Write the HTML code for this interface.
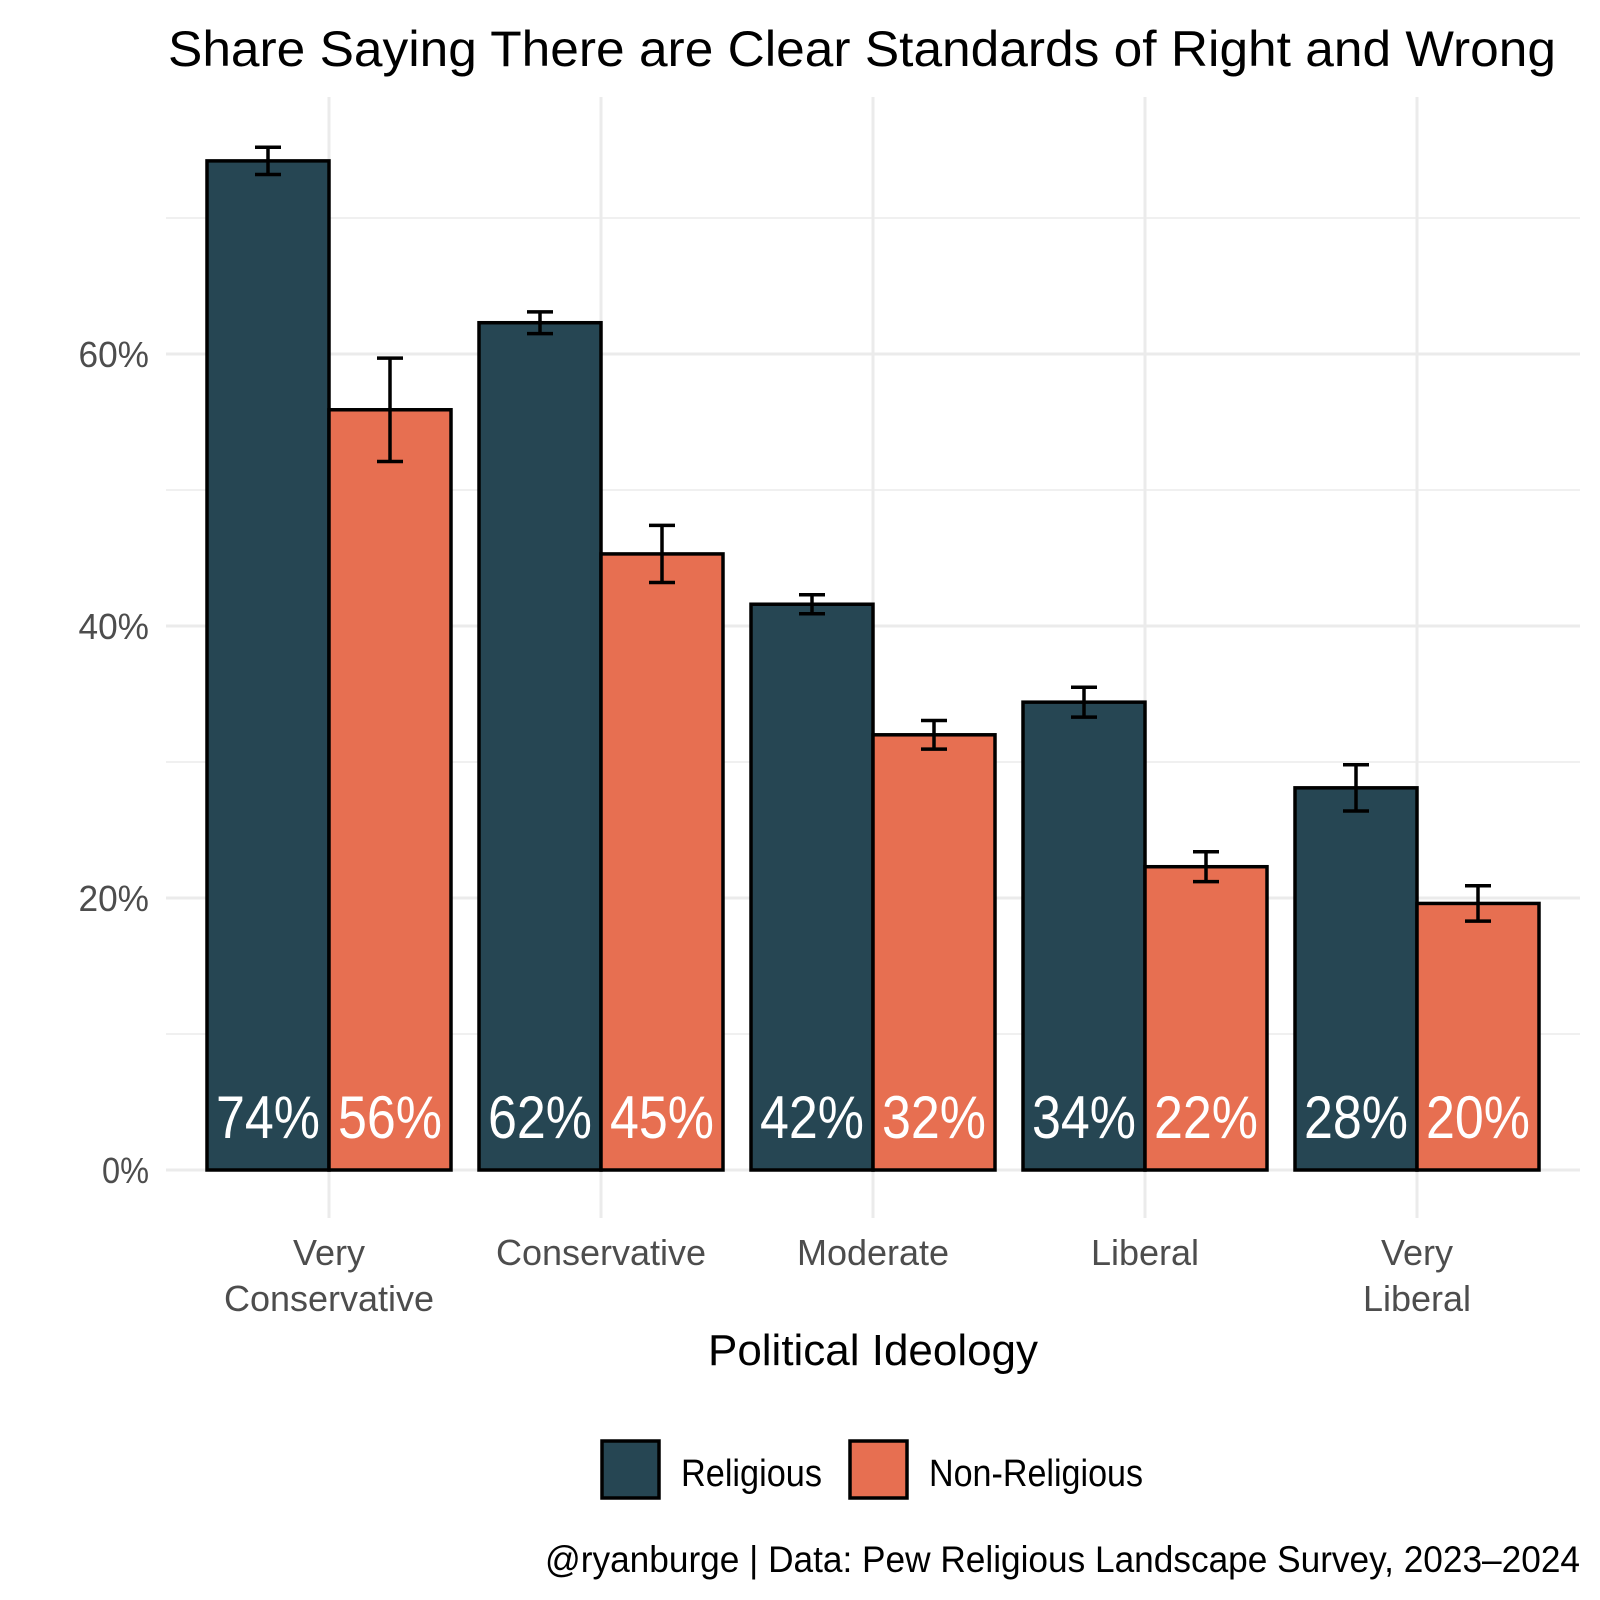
<!DOCTYPE html>
<html><head><meta charset="utf-8"><style>body{margin:0;background:#fff}svg{display:block}text{font-family:"Liberation Sans",sans-serif}</style></head>
<body>
<svg id="chart" width="1600" height="1600" viewBox="0 0 1600 1600" xmlns="http://www.w3.org/2000/svg">
<rect width="1600" height="1600" fill="#fff"/>
<text x="168" y="66" font-size="50" fill="#000" textLength="1388" lengthAdjust="spacingAndGlyphs">Share Saying There are Clear Standards of Right and Wrong</text>
<g id="grid"></g><g id="bars"></g><g id="labels"></g>
<text x="873" y="1365" font-size="44" text-anchor="middle" fill="#000" textLength="330" lengthAdjust="spacingAndGlyphs">Political Ideology</text>
<g>
<rect x="602" y="1441" width="57" height="57" fill="#264653" stroke="#000" stroke-width="3.5"/>
<text x="681" y="1486" font-size="38" fill="#000" textLength="141" lengthAdjust="spacingAndGlyphs">Religious</text>
<rect x="850" y="1441" width="57" height="57" fill="#E76F51" stroke="#000" stroke-width="3.5"/>
<text x="929" y="1486" font-size="38" fill="#000" textLength="214" lengthAdjust="spacingAndGlyphs">Non-Religious</text>
</g>
<text x="1580" y="1572" font-size="37" text-anchor="end" fill="#000" textLength="1035" lengthAdjust="spacingAndGlyphs">@ryanburge | Data: Pew Religious Landscape Survey, 2023–2024</text>
</svg>
<script>
const categories = [["Very","Conservative"],["Conservative"],["Moderate"],["Liberal"],["Very","Liberal"]];
const religious = [74.2, 62.3, 41.6, 34.4, 28.1];
const nonReligious = [55.9, 45.3, 32.0, 22.3, 19.6];
const religiousErr = [1.0, 0.8, 0.7, 1.1, 1.7];
const nonReligiousErr = [3.8, 2.1, 1.05, 1.1, 1.3];
const yTicks = [0, 20, 40, 60];
const yMinor = [10, 30, 50, 70];
const yTickLabels = ["0%", "20%", "40%", "60%"];

const NS = "http://www.w3.org/2000/svg";
const y = v => 1170 - v * 13.6;
const x = i => 329 + i * 272;
const BW = 122;
function mk(tag, attrs, parent){const e=document.createElementNS(NS,tag);for(const k in attrs)e.setAttribute(k,attrs[k]);parent.appendChild(e);return e;}
const grid=document.getElementById('grid'), bars=document.getElementById('bars'), labels=document.getElementById('labels');
yMinor.forEach(v=>{const l=mk('line',{x1:166,x2:1580,y1:y(v),y2:y(v),stroke:'#ebebeb','stroke-width':1.5},grid);

});
yTicks.forEach((v,i)=>{const l=mk('line',{x1:166,x2:1580,y1:y(v),y2:y(v),stroke:'#ebebeb','stroke-width':3},grid);


const t=mk('text',{x:149,y:y(v)+13,'font-size':36,'text-anchor':'end',fill:'#4d4d4d',textLength:yTickLabels[i].length*23.5,lengthAdjust:'spacingAndGlyphs'},labels);t.textContent=yTickLabels[i];

});
categories.forEach((c,i)=>{const l=mk('line',{x1:x(i),x2:x(i),y1:97,y2:1218,stroke:'#ebebeb','stroke-width':3},grid);


c.forEach((s,j)=>{const t=mk('text',{x:x(i),y:1265+j*46,'font-size':36,'text-anchor':'middle',fill:'#4d4d4d'},labels);t.textContent=s;

});});
function series(vals, errs, off, color, name){
vals.forEach((v,i)=>{const bx=x(i)+off;
const r=mk('rect',{x:bx,y:y(v),width:BW,height:y(0)-y(v),fill:color,stroke:'#000','stroke-width':3.5},bars);


const cx=bx+BW/2,t1=y(v+errs[i]),t2=y(v-errs[i]);
const g=mk('path',{d:`M${cx-13},${t1}H${cx+13}M${cx},${t1}V${t2}M${cx-13},${t2}H${cx+13}`,stroke:'#000','stroke-width':3.5,fill:'none'},bars);


const t=mk('text',{x:cx,y:1138,'font-size':60,'text-anchor':'middle',fill:'#fff',textLength:104,lengthAdjust:'spacingAndGlyphs'},bars);
t.textContent=Math.round(v)+'%';

});}
series(religious, religiousErr, -BW, '#264653', 'religious');
series(nonReligious, nonReligiousErr, 0, '#E76F51', 'non-religious');
</script>
</body></html>
